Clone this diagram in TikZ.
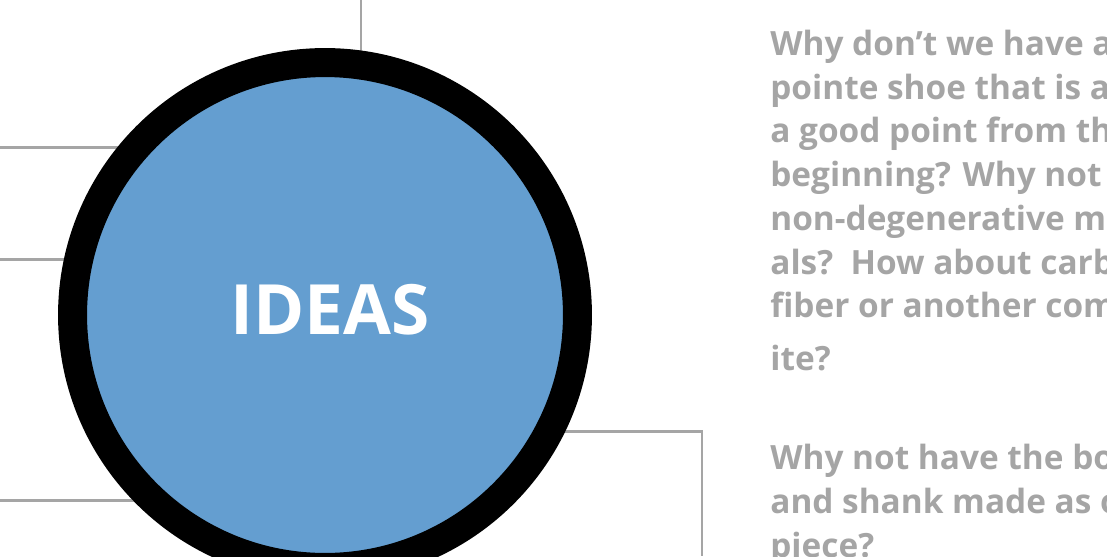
\documentclass[tikz,border=0pt]{standalone}
\usepackage{fontspec}
\setmainfont{Open Sans}
\definecolor{ideablue}{RGB}{100,158,208}
\definecolor{notegray}{RGB}{165,165,165}
\tikzset{
  hub/.style={circle, draw=black, fill=ideablue, line width=0.58cm, minimum size=10.1cm, inner sep=0pt},
  title/.style={text=white, font=\bfseries\fontsize{39.5}{46}\selectfont, inner sep=0pt},
  note/.style={anchor=base west, inner sep=0pt, text=notegray, font=\bfseries\fontsize{19}{24}\selectfont},
  link/.style={draw=notegray, line width=1.7pt},
}

\begin{document}
\begin{tikzpicture}[x=0.02cm, y=-0.02cm]
  \useasboundingbox (0,0) rectangle (1107,556);
  \clip (0,0) rectangle (1107,556);

  % free ends of the connectors
  \coordinate (c) at (325,315);
  \coordinate (n1) at (361,0);
  \coordinate (w1) at (0,147);
  \coordinate (w2) at (0,259);
  \coordinate (w3) at (0,500);
  \coordinate (e1) at (702,431);
  \coordinate (e2) at (702,556);

  % connectors first, the circle hides their inner ends
  \draw[link] (n1) -- (n1 |- c);
  \draw[link] (w1) -- (w1 -| c);
  \draw[link] (w2) -- (w2 -| c);
  \draw[link] (w3) -- (w3 -| c);
  \draw[link] (c |- e1) -- (e1) -- (e2);

  \node[hub] (ideas) at (c) {};
  \node[title] (ideastext) at ([shift={(5,-5)}]ideas.center) {IDEAS};

  % questions
  \node[note] (q1) at (770,55) {Why don’t we have a};
  \node[note] (q2) at (770,99) {pointe shoe that is at};
  \node[note] (q3) at (770,142) {a good point from the};
  \node[note] (q4) at (770,186) {beginning? Why not};
  \node[note] (q5) at (770,230) {non-degenerative materi};
  \node[note] (q6) at (770,274) {als?\ \ How about carbon};
  \node[note] (q7) at (770,317) {fiber or another compos};
  \node[note] (q8) at (770,370) {ite?};

  \node[note] (r1) at (770,469) {Why not have the box};
  \node[note] (r2) at (770,513) {and shank made as one};
  \node[note] (r3) at (770,557) {piece?};
\end{tikzpicture}
\end{document}
